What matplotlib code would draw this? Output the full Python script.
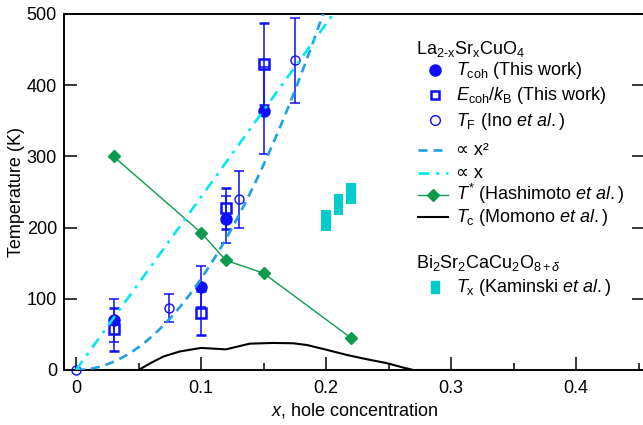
import matplotlib
matplotlib.use('Agg')
import matplotlib.pyplot as plt
import numpy as np
from matplotlib.lines import Line2D
from matplotlib.patches import Rectangle

plt.rcParams['font.family'] = ['Liberation Sans', 'DejaVu Sans']
plt.rcParams['mathtext.fontset'] = 'custom'
plt.rcParams['mathtext.rm'] = 'Liberation Sans'
plt.rcParams['mathtext.it'] = 'Liberation Sans:italic'
plt.rcParams['mathtext.bf'] = 'Liberation Sans:bold'

# this work: T_coh and E_coh/k_B
x_work = [0.03, 0.10, 0.12, 0.15]
t_coh = [70, 117, 212, 364]
t_coh_err = [30, 29, 33, 61]
e_coh = [57, 80, 227, 430]
e_coh_err = [30, 31, 29, 58]

# T_F (Ino et al.)
x_ino = [0.0, 0.074, 0.13, 0.175]
t_f = [0, 87, 240, 435]
t_f_err = [0, 20, 40, 60]

# T* (Hashimoto et al.)
x_hash = [0.03, 0.10, 0.12, 0.15, 0.22]
t_star = [300, 193, 154, 136, 45]

# T_c (Momono et al.)
x_tc = [0.0, 0.05, 0.06, 0.07, 0.083, 0.10, 0.12, 0.139, 0.158, 0.174, 0.185,
        0.199, 0.217, 0.233, 0.249, 0.262, 0.27, 0.35]
tc = [0, 0, 10, 19, 26, 31, 29, 37, 38, 37.5, 35, 29, 21, 15, 9.5, 3.3, 0, 0]

# T_x (Kaminski et al.), Bi2212
x_kam = [0.20, 0.21, 0.22]
t_x = [210, 232, 248]
t_x_err = [15, 15, 15]

# proportional guides
coef_x2 = 12800
coef_x = 2430

blue = '#0d0dff'
green = '#0c9a4c'
c_x2 = '#1e9fe8'
c_x = '#00e8f0'
teal = '#00cccc'

fs = 13

fig = plt.figure(figsize=(6.43, 4.25), dpi=100)
ax = fig.add_axes([64/643, 55/425, 581/643, 356/425])

# guide curves
xg = np.linspace(0, 0.25, 200)
ax.plot(xg, coef_x2*xg**2, color=c_x2, lw=1.9, dashes=(3.4, 2.3), zorder=6)
ax.plot(xg, coef_x*xg, color=c_x, lw=1.9, dashes=(4.2, 2.6, 1.1, 2.6), zorder=6)

# Tc
ax.plot(x_tc, tc, color='black', lw=1.5, zorder=3)

# T*
ax.plot(x_hash, t_star, color=green, lw=1.0, marker='D', ms=6, zorder=4)

# Kaminski
ax.bar(x_kam, [2*e for e in t_x_err], bottom=[t - e for t, e in zip(t_x, t_x_err)],
       width=0.0076, color=teal, zorder=3)

# this work + Ino
ax.errorbar(x_ino[1:], t_f[1:], yerr=t_f_err[1:], fmt='none', ecolor=blue,
            elinewidth=1.1, capsize=3.8, capthick=1.1, zorder=4)
ax.plot(x_ino, t_f, 'o', mfc='none', mec=blue, ms=6.5, mew=1.0, zorder=5, clip_on=False)
ax.errorbar(x_work, e_coh, yerr=e_coh_err, fmt='s', mfc='none', mec=blue, ms=7,
            mew=1.8, ecolor=blue, elinewidth=1.1, capsize=3.8, capthick=1.1, zorder=5)
ax.errorbar(x_work, t_coh, yerr=t_coh_err, fmt='o', color=blue, ms=8,
            ecolor=blue, elinewidth=1.1, capsize=3.8, capthick=1.1, zorder=5)

ax.set_xlim(-0.0096, 0.4552)
ax.set_ylim(0, 500)
ax.set_xticks([0, 0.1, 0.2, 0.3, 0.4])
ax.set_xticklabels(['0', '0.1', '0.2', '0.3', '0.4'])
ax.set_xticks([0.05, 0.15, 0.25, 0.35, 0.45], minor=True)
ax.set_yticks([0, 100, 200, 300, 400, 500])
ax.tick_params(which='major', direction='in', length=9.4, width=1.1, right=True,
               labelsize=fs)
ax.tick_params(axis='x', which='major', pad=7)
ax.tick_params(axis='y', which='major', pad=5)
ax.tick_params(which='minor', direction='in', length=5, width=1.1)
ax.tick_params(axis='y', which='minor', right=False, left=False)
for s in ax.spines.values():
    s.set_linewidth(1.4)
ax.set_xlabel(r'$x$, hole concentration', fontsize=fs, labelpad=3)
ax.set_ylabel('Temperature (K)', fontsize=fs, labelpad=1)


# legend, placed in pixel coordinates
def fx(p):
    return p/643


def fy(p):
    return 1 - p/425


tx = 456
fig.text(fx(416), fy(54), r'La$_{\rm 2\text{-}x}$Sr$_{\rm x}$CuO$_4$', fontsize=fs, va='baseline')
fig.add_artist(Line2D([fx(435)], [fy(69.5)], marker='o', color=blue, ms=8, ls='none'))
fig.text(fx(tx), fy(75), r'$T_{\rm coh}$ (This work)', fontsize=fs, va='baseline')
fig.add_artist(Line2D([fx(435)], [fy(95)], marker='s', mfc='none', mec=blue, ms=5.5,
                      mew=1.8, ls='none'))
fig.text(fx(tx), fy(100.5), r'$E_{\rm coh}/k_{\rm B}$ (This work)', fontsize=fs, va='baseline')
fig.add_artist(Line2D([fx(435)], [fy(120)], marker='o', mfc='none', mec=blue, ms=7,
                      mew=1.0, ls='none'))
fig.text(fx(tx), fy(125.5), r'$T_{\rm F}$ (Ino $et\ al.$)', fontsize=fs, va='baseline')
fig.add_artist(Line2D([fx(418), fx(448)], [fy(149.5)]*2, color=c_x2, lw=1.9,
                      dashes=(3.4, 2.3)))
fig.text(fx(tx), fy(155), '\u221d x\u00b2', fontsize=fs, va='baseline')
fig.add_artist(Line2D([fx(418), fx(448)], [fy(172.5)]*2, color=c_x, lw=1.9,
                      dashes=(4.2, 2.6, 1.1, 2.6)))
fig.text(fx(tx), fy(178), '\u221d x', fontsize=fs, va='baseline')
fig.add_artist(Line2D([fx(418), fx(448)], [fy(194.5)]*2, color=green, lw=1.0))
fig.add_artist(Line2D([fx(433)], [fy(194.5)], color=green, marker='D', ms=6, ls='none'))
fig.text(fx(tx), fy(200), r'$T^{*}$ (Hashimoto $et\ al.$)', fontsize=fs, va='baseline')
fig.add_artist(Line2D([fx(418), fx(448)], [fy(216.5)]*2, color='black', lw=1.5))
fig.text(fx(tx), fy(222), r'$T_{\rm c}$ (Momono $et\ al.$)', fontsize=fs, va='baseline')
fig.text(fx(416), fy(268), r'Bi$_2$Sr$_2$CaCu$_2$O$_{8+\delta}$', fontsize=fs, va='baseline')
fig.add_artist(Rectangle((fx(431), fy(293)), 8/643, 11.7/425, color=teal,
                         transform=fig.transFigure))
fig.text(fx(tx), fy(292.5), r'$T_{\rm x}$ (Kaminski $et\ al.$)', fontsize=fs, va='baseline')

fig.savefig('out.png', dpi=100)
